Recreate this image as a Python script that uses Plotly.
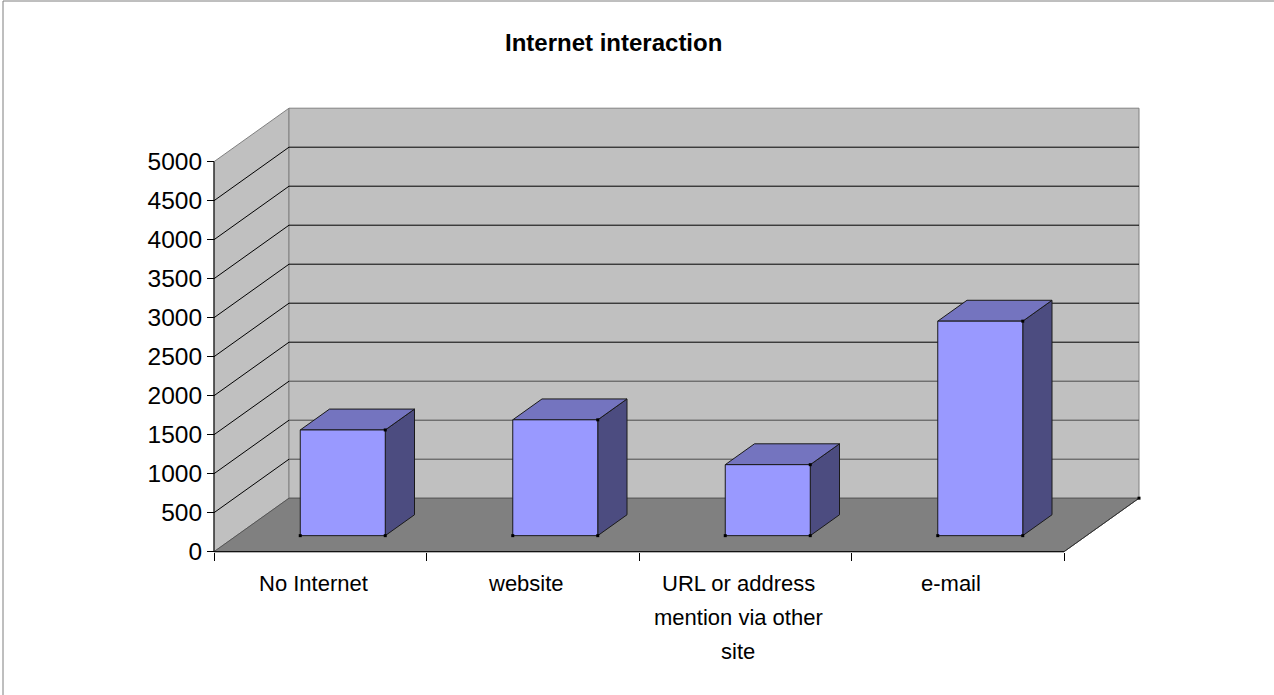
import plotly.graph_objects as go

# ---- data ----
categories = ["No Internet", "website", "URL or address\nmention via other\nsite", "e-mail"]
values = [1355, 1485, 910, 2750]
y_ticks = list(range(0, 5001, 500))
chart_title = "Internet interaction"

# ---- canvas / oblique 3-D projection settings ----
W, H = 1274, 695
ORIGIN_PX = (214.0, 551.7)      # front-left-bottom corner of the box on the page
PX_PER_CAT = 212.5              # horizontal pixels per category slot
PX_PER_VAL = 390.0 / 5000.0     # vertical pixels per value unit
DEPTH_U = 0.353                 # horizontal shift of the back plane (category units)
DEPTH_V = 686.0                 # vertical shift of the back plane (value units)
V_TOP = max(y_ticks)
N = len(categories)

BAR_HALF = 0.2
BAR_Z0, BAR_Z1 = 0.30, 0.69

x_range = [-ORIGIN_PX[0] / PX_PER_CAT, (W - ORIGIN_PX[0]) / PX_PER_CAT]
y_range = [(ORIGIN_PX[1] - H) / PX_PER_VAL, ORIGIN_PX[1] / PX_PER_VAL]

FONT = "Liberation Sans, Arial, sans-serif"


def proj(u, v, z):
    """Oblique projection of (category, value, depth) onto the 2-D axes."""
    return u + z * DEPTH_U, v + z * DEPTH_V


def poly(points):
    xs, ys = [], []
    for p in points + [points[0]]:
        x, y = proj(*p)
        xs.append(x)
        ys.append(y)
    return xs, ys


def face(points, fill, line_color, width=1):
    xs, ys = poly(points)
    return go.Scatter(x=xs, y=ys, mode="lines", fill="toself", fillcolor=fill,
                      line=dict(color=line_color, width=width), hoverinfo="skip")


def segments(segs, color, width=1):
    xs, ys = [], []
    for a, b in segs:
        for p in (a, b):
            x, y = proj(*p)
            xs.append(x)
            ys.append(y)
        xs.append(None)
        ys.append(None)
    return go.Scatter(x=xs, y=ys, mode="lines", line=dict(color=color, width=width),
                      hoverinfo="skip")


fig = go.Figure()

# walls and floor
fig.add_trace(face([(0, 0, 0), (0, 0, 1), (0, V_TOP, 1), (0, V_TOP, 0)], "#C0C0C0", "#808080"))
fig.add_trace(face([(0, 0, 1), (N, 0, 1), (N, V_TOP, 1), (0, V_TOP, 1)], "#C0C0C0", "#808080"))
fig.add_trace(face([(0, 0, 0), (N, 0, 0), (N, 0, 1), (0, 0, 1)], "#808080", "#555555"))

# gridlines: slanted on the side wall, horizontal on the back wall
grid_vals = [v for v in y_ticks if 0 < v < V_TOP]
fig.add_trace(segments([((0, v, 0), (0, v, 1)) for v in grid_vals], "#000000"))
fig.add_trace(segments([((0, v, 1), (N, v, 1)) for v in grid_vals if v > 1500], "#000000"))
fig.add_trace(segments([((0, v, 1), (N, v, 1)) for v in grid_vals if v <= 1500], "#4a4a4a"))

# floor front-right edge
fig.add_trace(segments([((N, 0, 0), (N, 0, 1))], "#333333"))

# columns
dots_x, dots_y = [], []
for i, val in enumerate(values):
    u0, u1 = i + 0.5 - BAR_HALF, i + 0.5 + BAR_HALF
    fig.add_trace(face([(u1, 0, BAR_Z0), (u1, 0, BAR_Z1), (u1, val, BAR_Z1), (u1, val, BAR_Z0)],
                       "#4C4C80", "#1a1a1a"))
    fig.add_trace(face([(u0, val, BAR_Z0), (u1, val, BAR_Z0), (u1, val, BAR_Z1), (u0, val, BAR_Z1)],
                       "#7474BF", "#1a1a1a"))
    fig.add_trace(face([(u0, 0, BAR_Z0), (u1, 0, BAR_Z0), (u1, val, BAR_Z0), (u0, val, BAR_Z0)],
                       "#9999FF", "#1a1a1a"))
    for p in [(u0, 0, BAR_Z0), (u1, 0, BAR_Z0), (u1, val, BAR_Z0)]:
        x, y = proj(*p)
        dots_x.append(x)
        dots_y.append(y)

cx, cy = proj(N, 0, 1)
dots_x.append(cx)
dots_y.append(cy)
fig.add_trace(go.Scatter(x=dots_x, y=dots_y, mode="markers",
                         marker=dict(symbol="square", size=3, color="#000000", line=dict(width=0)),
                         hoverinfo="skip"))

# axis lines
fig.add_trace(segments([((0, 0, 0), (0, V_TOP, 0)), ((0, 0, 0), (N, 0, 0))], "#000000"))

# category labels, one annotation per text line
LINE_STEP = 34
for i, label in enumerate(categories):
    for k, line in enumerate(label.split("\n")):
        fig.add_annotation(x=i + 0.5, y=0, xref="x", yref="y", text=line, showarrow=False,
                           xanchor="center", yanchor="top", xshift=-7, yshift=-17 - k * LINE_STEP,
                           font=dict(family=FONT, size=22, color="#000000"))

fig.add_annotation(x=613.9 / W, y=1 - 42 / H, xref="paper", yref="paper",
                   text="<b>%s</b>" % chart_title, showarrow=False,
                   xanchor="center", yanchor="middle",
                   font=dict(family=FONT, size=24, color="#000000"))

# outer frame (left and top edges)
fig.add_shape(type="line", xref="paper", yref="paper", x0=3 / W, x1=3 / W, y0=0, y1=1 - 1 / H,
              line=dict(color="#7f7f7f", width=1))
fig.add_shape(type="line", xref="paper", yref="paper", x0=3 / W, x1=1, y0=1 - 1 / H, y1=1 - 1 / H,
              line=dict(color="#7f7f7f", width=1))

x_pos = (0 - x_range[0]) / (x_range[1] - x_range[0])
y_pos = (0 - y_range[0]) / (y_range[1] - y_range[0])

fig.update_layout(
    width=W, height=H, autosize=False,
    margin=dict(l=0, r=0, t=0, b=0, pad=0),
    paper_bgcolor="#FFFFFF", plot_bgcolor="#FFFFFF",
    showlegend=False, hovermode=False,
    xaxis=dict(range=x_range, anchor="free", position=y_pos,
               tickmode="array", tickvals=list(range(N + 1)), ticks="outside",
               ticklen=8, tickwidth=1, tickcolor="#000000", showticklabels=False,
               showgrid=False, zeroline=False, showline=False, fixedrange=True),
    yaxis=dict(range=y_range, anchor="free", position=x_pos,
               tickmode="array", tickvals=y_ticks, ticktext=[str(v) for v in y_ticks],
               ticks="outside", ticklen=7, tickwidth=1, tickcolor="#000000",
               tickfont=dict(family=FONT, size=24.5, color="#000000"),
               showgrid=False, zeroline=False, showline=False, fixedrange=True),
)

fig.write_html("out.html", config={"displayModeBar": False, "staticPlot": True})
